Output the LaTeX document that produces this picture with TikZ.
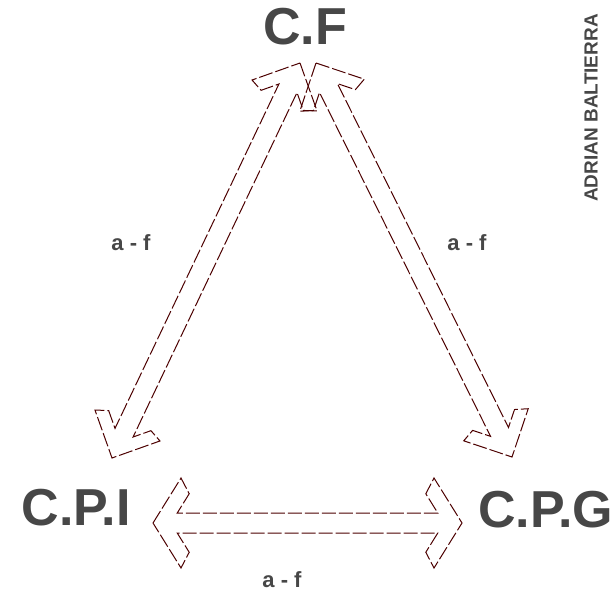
\documentclass[tikz,border=0pt]{standalone}
\usepackage{fontspec}
\setsansfont{Liberation Sans}
\usetikzlibrary{calc}

\def\thk{9}  % head thickness along the arrow
\def\shw{5}  % half width of the shaft
% hollow double arrow: from, to, head length, head half width (pt)
\newcommand{\fatarrow}[4]{%
  \pgfmathsetmacro\hl{#3}\pgfmathsetmacro\hw{#4}%
  \pgfmathsetmacro\jl{\thk+\hl*\shw/\hw}%
  \pgfmathsetmacro\nl{\thk+0.65*\hl}\pgfmathsetmacro\nw{0.65*\hw}%
  \draw[hollow] (#1)
    -- ($(#1)!\hl pt!(#2)!\hw pt!90:(#2)$)
    -- ($(#1)!\nl pt!(#2)!\nw pt!90:(#2)$)
    -- ($(#1)!\jl pt!(#2)!\shw pt!90:(#2)$)
    -- ($(#2)!\jl pt!(#1)!\shw pt!-90:(#1)$)
    -- ($(#2)!\nl pt!(#1)!\nw pt!-90:(#1)$)
    -- ($(#2)!\hl pt!(#1)!\hw pt!-90:(#1)$)
    -- (#2)
    -- ($(#2)!\hl pt!(#1)!\hw pt!90:(#1)$)
    -- ($(#2)!\nl pt!(#1)!\nw pt!90:(#1)$)
    -- ($(#2)!\jl pt!(#1)!\shw pt!90:(#1)$)
    -- ($(#1)!\jl pt!(#2)!\shw pt!-90:(#2)$)
    -- ($(#1)!\nl pt!(#2)!\nw pt!-90:(#2)$)
    -- ($(#1)!\hl pt!(#2)!\hw pt!-90:(#2)$)
    -- cycle;
}

\begin{document}
\begin{tikzpicture}[x=0.5pt, y=-0.5pt,
    hollow/.style={draw=black!70!red, line width=0.5pt, dash pattern=on 7pt off 1.5pt},
    centre/.style={font=\sffamily\bfseries\fontsize{26}{26}\selectfont, text=black!72, inner sep=0pt},
    arrowlabel/.style={font=\sffamily\bfseries\fontsize{11}{11}\selectfont, text=black!72, inner sep=1pt}]
    \useasboundingbox (0,0) rectangle (613,597);

    \node[centre, anchor=base] (CF) at (305,45) {C.F};
    \node[centre, anchor=base] (CPI) at (76,525) {C.P.I};
    \node[centre, anchor=base west] (CPG) at (478,527) {C.P.G};

    % arrow tips
    \coordinate (cf-l) at (300,63);
    \coordinate (cf-r) at (316,63);
    \coordinate (cpi-t) at (112,458);
    \coordinate (cpi-r) at (153,523);
    \coordinate (cpg-t) at (512,457);
    \coordinate (cpg-l) at (462,523);

    \fatarrow{cf-l}{cpi-t}{18}{18}
    \fatarrow{cf-r}{cpg-t}{18}{18}
    \fatarrow{cpi-r}{cpg-l}{14}{22.5}

    \node[arrowlabel] (al) at (131,243) {a - f};
    \node[arrowlabel] (ar) at (467,243) {a - f};
    \node[arrowlabel] (ab) at (282,580) {a - f};

    \node[arrowlabel, rotate=90, font=\sffamily\bfseries\fontsize{9.5}{9.5}\selectfont] (name) at (591,108) {ADRIAN BALTIERRA};
\end{tikzpicture}
\end{document}
